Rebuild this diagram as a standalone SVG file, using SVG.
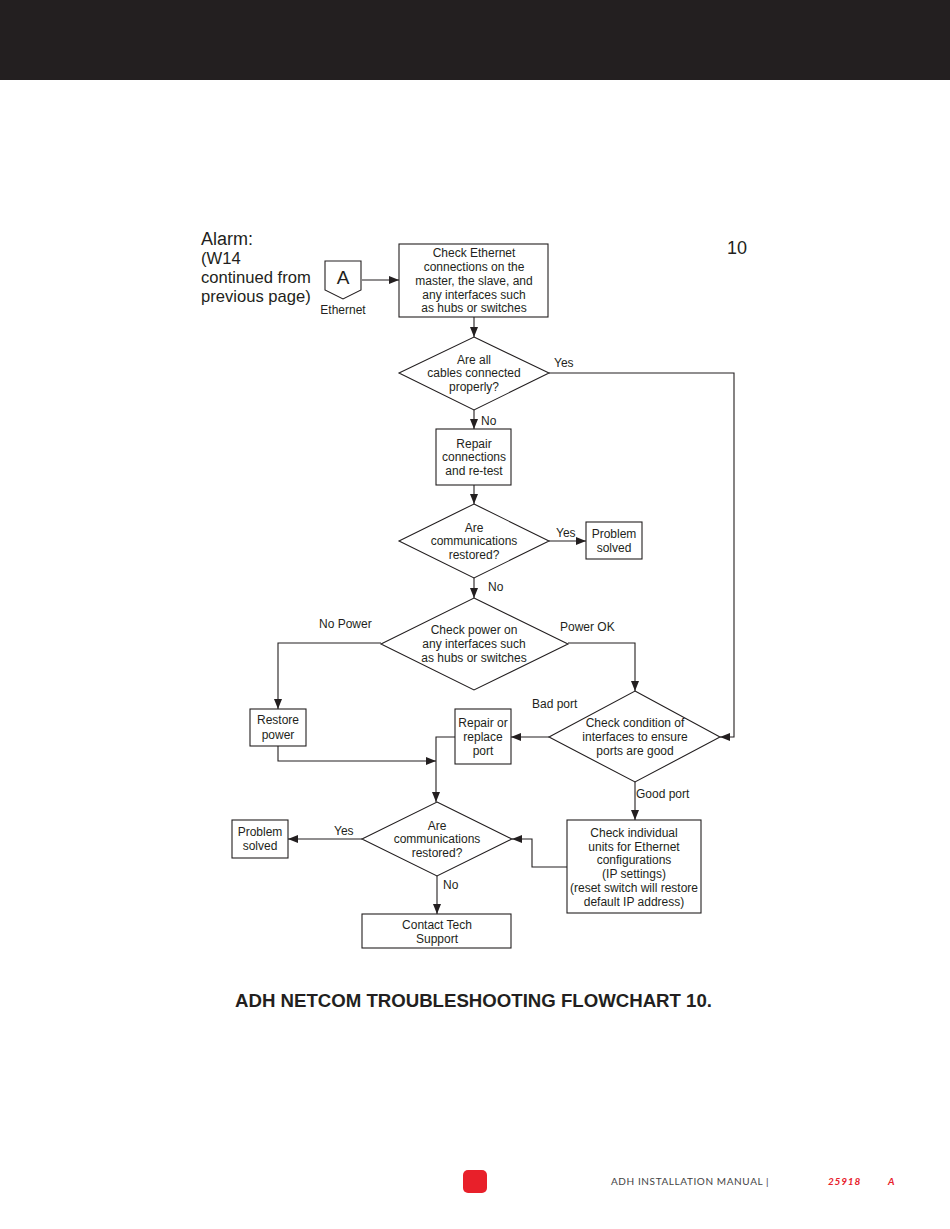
<svg xmlns="http://www.w3.org/2000/svg" width="950" height="1229" viewBox="0 0 950 1229">
<style>
.n{fill:#fff;stroke:#231f20;stroke-width:1.1}
.t{font-family:"Liberation Sans",Arial,sans-serif;font-size:12px;fill:#231f20;text-anchor:middle}
.l{font-family:"Liberation Sans",Arial,sans-serif;font-size:12px;fill:#231f20}
.c{fill:none;stroke:#231f20;stroke-width:1.1}
</style>
<defs>
<marker id="ah" viewBox="0 0 10 8" refX="10" refY="4" markerWidth="10" markerHeight="8" markerUnits="userSpaceOnUse" orient="auto">
<path d="M0,0 L10,4 L0,8 Z" fill="#231f20"/>
</marker>
</defs>
<rect x="0" y="0" width="950" height="80" fill="#231f20"/>
<g id="heading">
<text x="201" y="245" font-family="Liberation Sans,Arial,sans-serif" font-size="18" fill="#231f20">Alarm:</text>
<text x="201" y="264" font-family="Liberation Sans,Arial,sans-serif" font-size="16.6" fill="#231f20">(W14</text>
<text x="201" y="283" font-family="Liberation Sans,Arial,sans-serif" font-size="16.6" fill="#231f20">continued from</text>
<text x="201" y="302" font-family="Liberation Sans,Arial,sans-serif" font-size="16.6" fill="#231f20">previous page)</text>
<text x="727" y="254" font-family="Liberation Sans,Arial,sans-serif" font-size="18" fill="#231f20">10</text>
</g>
<g id="connectorA">
<path class="n" d="M325,261 H361 V290 L343,299 L325,290 Z"/>
<text x="343" y="284" font-family="Liberation Sans,Arial,sans-serif" font-size="19" fill="#231f20" text-anchor="middle">A</text>
<text x="343" y="314" class="t">Ethernet</text>
</g>
<g id="n1">
<rect class="n" x="399" y="244" width="149" height="73"/>
<text class="t" x="474" y="257">Check Ethernet</text>
<text class="t" x="474" y="271">connections on the</text>
<text class="t" x="474" y="285">master, the slave, and</text>
<text class="t" x="474" y="299">any interfaces such</text>
<text class="t" x="474" y="312">as hubs or switches</text>
</g>
<g id="d1">
<path class="n" d="M474,337 L549,373 L474,410 L399,373 Z"/>
<text class="t" x="474" y="364">Are all</text>
<text class="t" x="474" y="377">cables connected</text>
<text class="t" x="474" y="391">properly?</text>
</g>
<g id="n2">
<rect class="n" x="436" y="429" width="75" height="56"/>
<text class="t" x="474" y="448">Repair</text>
<text class="t" x="474" y="461">connections</text>
<text class="t" x="474" y="475">and re-test</text>
</g>
<g id="d2">
<path class="n" d="M474,504 L549,541 L474,578 L399,541 Z"/>
<text class="t" x="474" y="532">Are</text>
<text class="t" x="474" y="545">communications</text>
<text class="t" x="474" y="559">restored?</text>
</g>
<g id="n3">
<rect class="n" x="586" y="522" width="56" height="37"/>
<text class="t" x="614" y="538">Problem</text>
<text class="t" x="614" y="552">solved</text>
</g>
<g id="d3">
<path class="n" d="M474,598 L568,644 L474,690 L381,644 Z"/>
<text class="t" x="474" y="634">Check power on</text>
<text class="t" x="474" y="648">any interfaces such</text>
<text class="t" x="474" y="662">as hubs or switches</text>
</g>
<g id="n4">
<rect class="n" x="250" y="709" width="56" height="37"/>
<text class="t" x="278" y="724">Restore</text>
<text class="t" x="278" y="739">power</text>
</g>
<g id="d4">
<path class="n" d="M635,691 L720,737 L635,782 L549,737 Z"/>
<text class="t" x="635" y="727">Check condition of</text>
<text class="t" x="635" y="741">interfaces to ensure</text>
<text class="t" x="635" y="755">ports are good</text>
</g>
<g id="n5">
<rect class="n" x="455" y="709" width="56" height="55"/>
<text class="t" x="483" y="727">Repair or</text>
<text class="t" x="483" y="741">replace</text>
<text class="t" x="483" y="755">port</text>
</g>
<g id="n6">
<rect class="n" x="567" y="820" width="134" height="93"/>
<text class="t" x="634" y="837">Check individual</text>
<text class="t" x="634" y="851">units for Ethernet</text>
<text class="t" x="634" y="864">configurations</text>
<text class="t" x="634" y="878">(IP settings)</text>
<text class="t" x="634" y="892">(reset switch will restore</text>
<text class="t" x="634" y="906">default IP address)</text>
</g>
<g id="d5">
<path class="n" d="M437,802 L512,839 L437,876 L362,839 Z"/>
<text class="t" x="437" y="830">Are</text>
<text class="t" x="437" y="843">communications</text>
<text class="t" x="437" y="857">restored?</text>
</g>
<g id="n7">
<rect class="n" x="232" y="820" width="56" height="38"/>
<text class="t" x="260" y="836">Problem</text>
<text class="t" x="260" y="850">solved</text>
</g>
<g id="n8">
<rect class="n" x="362" y="914" width="149" height="34"/>
<text class="t" x="437" y="929">Contact Tech</text>
<text class="t" x="437" y="943">Support</text>
</g>
<g id="connectors">
<path class="c" d="M362,280 H399" marker-end="url(#ah)"/>
<path class="c" d="M474,317 V337" marker-end="url(#ah)"/>
<path class="c" d="M549,373 H734 V737 H720" marker-end="url(#ah)"/>
<path class="c" d="M474,410 V429" marker-end="url(#ah)"/>
<path class="c" d="M474,485 V504" marker-end="url(#ah)"/>
<path class="c" d="M549,541 H586" marker-end="url(#ah)"/>
<path class="c" d="M474,578 V598" marker-end="url(#ah)"/>
<path class="c" d="M381,643 H278 V709" marker-end="url(#ah)"/>
<path class="c" d="M568,643 H635 V691" marker-end="url(#ah)"/>
<path class="c" d="M278,746 V761 H436" marker-end="url(#ah)"/>
<path class="c" d="M549,737 H511" marker-end="url(#ah)"/>
<path class="c" d="M455,737 H436 V802" marker-end="url(#ah)"/>
<path class="c" d="M635,782 V820" marker-end="url(#ah)"/>
<path class="c" d="M567,867 H532 V839 H512" marker-end="url(#ah)"/>
<path class="c" d="M362,839 H288" marker-end="url(#ah)"/>
<path class="c" d="M437,876 V914" marker-end="url(#ah)"/>
<text class="l" x="554" y="367">Yes</text>
<text class="l" x="481" y="425">No</text>
<text class="l" x="556" y="537">Yes</text>
<text class="l" x="488" y="591">No</text>
<text class="l" x="319" y="628">No Power</text>
<text class="l" x="560" y="631">Power OK</text>
<text class="l" x="532" y="708">Bad port</text>
<text class="l" x="636" y="798">Good port</text>
<text class="l" x="334" y="835">Yes</text>
<text class="l" x="443" y="889">No</text>
</g>
<text x="235" y="1007" font-family="Liberation Sans,Arial,sans-serif" font-size="18" font-weight="bold" fill="#231f20" textLength="477" lengthAdjust="spacingAndGlyphs">ADH NETCOM TROUBLESHOOTING FLOWCHART 10.</text>
<g id="footer">
<rect x="463" y="1170" width="24" height="23" rx="5" fill="#e8202a"/>
<text x="611" y="1185" font-family="Lato,'Liberation Sans',sans-serif" font-size="10" letter-spacing="0.6" fill="#444">ADH INSTALLATION MANUAL |</text>
<text x="828" y="1185" font-family="Lato,'Liberation Sans',sans-serif" font-size="10" font-weight="bold" font-style="italic" letter-spacing="0.8" fill="#e8202a">25918</text>
<text x="888" y="1185" font-family="Lato,'Liberation Sans',sans-serif" font-size="10" font-weight="bold" font-style="italic" fill="#e8202a">A</text>
</g>
</svg>
